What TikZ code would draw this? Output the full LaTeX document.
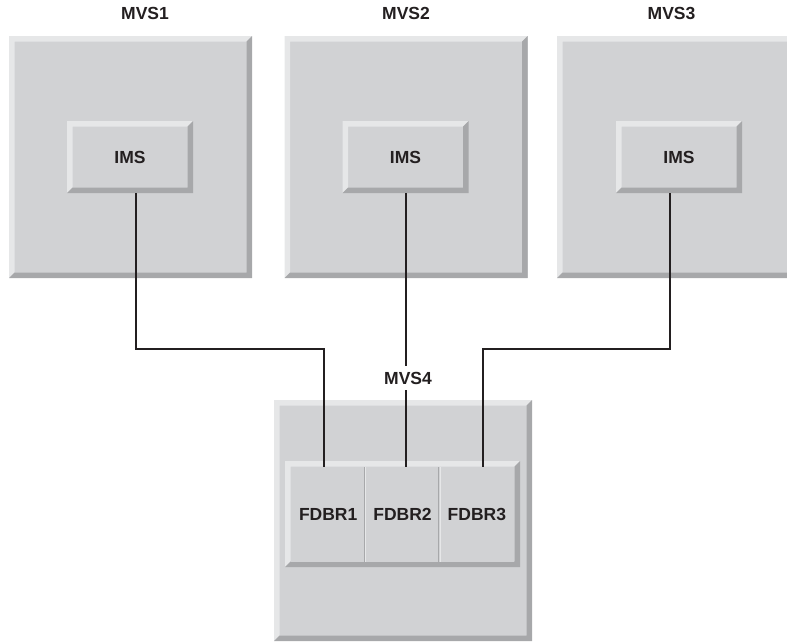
\documentclass[tikz,border=0pt]{standalone}
\usepackage{fontspec}
\setmainfont{Liberation Sans}
\usetikzlibrary{positioning}

\definecolor{face}{HTML}{D1D2D4}
\definecolor{lite}{HTML}{E6E7E8}
\definecolor{dim}{HTML}{A7A8AA}
\definecolor{ink}{HTML}{231F20}

\tikzset{
  panel/.style 2 args={fill=face, inner sep=0pt, outer sep=0pt,
    minimum width=#1pt, minimum height=#2pt},
  cell/.style={fill=face, inner sep=0pt, outer sep=0pt, text=ink,
    minimum width=74.33pt, minimum height=95pt,
    font=\fontsize{17.5}{20}\selectfont\bfseries},
  title/.style={text=ink, inner sep=2pt, font=\fontsize{17.5}{20}\selectfont\bfseries},
  wire/.style={draw=ink, line width=1.4pt}
}

% bevel round a named node
\newcommand{\bevel}[1]{%
  \fill[lite] (#1.north west) -- (#1.north east) -- ([shift={(-5.5pt,-5.5pt)}]#1.north east)
    -- ([shift={(5.5pt,-5.5pt)}]#1.north west) -- ([shift={(5.5pt,5.5pt)}]#1.south west)
    -- (#1.south west) -- cycle;
  \fill[dim] (#1.north east) -- (#1.south east) -- (#1.south west)
    -- ([shift={(5.5pt,5.5pt)}]#1.south west) -- ([shift={(-5.5pt,5.5pt)}]#1.south east)
    -- ([shift={(-5.5pt,-5.5pt)}]#1.north east) -- cycle;}

\begin{document}
\begin{tikzpicture}[x=1pt,y=-1pt]
  \useasboundingbox (0,0) rectangle (787,641);

  % the three upper systems
  \node[panel={243}{242}] (mvs1) at (130.5,157) {};
  \node[panel={243}{242}] (mvs2) at (406,157) {};
  \node[panel={243}{242}] (mvs3) at (678.5,157) {};
  \bevel{mvs1} \bevel{mvs2} \bevel{mvs3}

  \node[panel={126}{72}, text=ink, font=\fontsize{17.5}{20}\selectfont\bfseries] (ims1) at (130,157) {IMS};
  \node[panel={126}{72}, text=ink, font=\fontsize{17.5}{20}\selectfont\bfseries] (ims2) at (405.5,157) {IMS};
  \node[panel={126}{72}, text=ink, font=\fontsize{17.5}{20}\selectfont\bfseries] (ims3) at (679,157) {IMS};
  \bevel{ims1} \bevel{ims2} \bevel{ims3}

  % the lower system
  \node[panel={258}{241}] (mvs4) at (403,520.5) {};
  \bevel{mvs4}
  \node[panel={235}{106}] (fdbrs) at (402.5,514) {};
  \bevel{fdbrs}

  \node[cell] (fdbr1) at (328.2,514.5) {FDBR1};
  \node[cell, right=0pt of fdbr1] (fdbr2) {FDBR2};
  \node[cell, right=0pt of fdbr2] (fdbr3) {FDBR3};

  % dividers
  \draw[dim, line width=1pt] ([xshift=-0.8pt]fdbr1.north east) -- ([xshift=-0.8pt]fdbr1.south east);
  \draw[lite, line width=1pt] ([xshift=0.6pt]fdbr1.north east) -- ([xshift=0.6pt]fdbr1.south east);
  \draw[dim, line width=1pt] ([xshift=-0.8pt]fdbr2.north east) -- ([xshift=-0.8pt]fdbr2.south east);
  \draw[lite, line width=1pt] ([xshift=0.6pt]fdbr2.north east) -- ([xshift=0.6pt]fdbr2.south east);

  % connections
  \draw[wire] ([xshift=6pt]ims1.south) -- ++(0,156) -| ([xshift=-4.2pt]fdbr1.north);
  \draw[wire] ([xshift=0.5pt]ims2.south) -- ([xshift=0.5pt]ims2.south |- fdbr2.north);
  \draw[wire] ([xshift=-9pt]ims3.south) -- ++(0,156) -| ([xshift=6.14pt]fdbr3.north);

  % labels
  \node[title] (l1) at (145,13) {MVS1};
  \node[title] (l2) at (406,13) {MVS2};
  \node[title] (l3) at (671.5,13) {MVS3};
  \node[title, fill=white, inner ysep=6pt] (l4) at (408,378) {MVS4};
\end{tikzpicture}
\end{document}
